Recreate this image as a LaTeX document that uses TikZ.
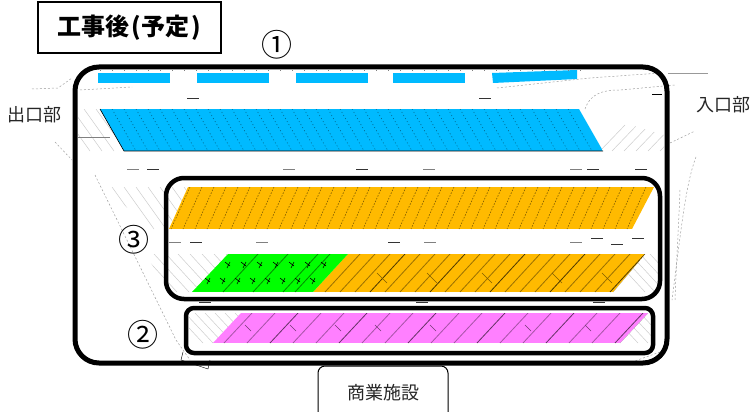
\documentclass[tikz,border=0pt]{standalone}
\usepackage{fontspec}
\setmainfont{Noto Sans CJK JP}
\usetikzlibrary{positioning}
\definecolor{bayblue}{RGB}{0,186,255}
\definecolor{bayorange}{RGB}{255,186,0}
\definecolor{baygreen}{RGB}{0,255,0}
\definecolor{baypink}{RGB}{255,128,255}
\tikzset{
  zonebox/.style={black, rounded corners=#1},
  thinhatch/.style={gray!40, line width=0.5pt},
  planline/.style={gray!75, line width=0.5pt, dash pattern=on 2pt off 2pt},
  tinymark/.style={black!80, line width=0.9pt},
  planlabel/.style={font=\fontsize{18}{18}\selectfont, text=black!85, inner sep=0pt},
  numlabel/.style={font=\fontsize{31}{31}\selectfont, inner sep=0pt},
}
% short strokes standing for the very small marks on the plan
\newcommand{\planmark}[2]{\draw[tinymark] (#1-6,#2) -- (#1+6,#2);}
\begin{document}
\begin{tikzpicture}[x=1pt,y=-1pt]
  \clip (0,0) rectangle (750,412);
  \useasboundingbox (0,0) rectangle (750,412);

  % grey site lines
  \draw[planline] (32,89) -- (58,88) -- (72,78);
  \draw[planline] (80,90) -- (132,87);
  \draw[planline] (497,88) -- (590,78) -- (660,73);
  \draw[planline] (585,109) .. controls (590,95) and (600,90) .. (620,90) -- (675,85);
  \draw[gray!80] (668,73) -- (708,73);
  \draw[black] (652,94) -- (662,94);
  \draw[planline] (670,143) -- (695,131);
  \draw[planline] (55,142) -- (72,160);
  \draw[planline] (95,175) -- (176,340) -- (190,360);
  \draw[planline] (696,157) .. controls (685,185) and (680,240) .. (672,300);
  \draw[planline] (680,190) .. controls (678,240) and (676,270) .. (675,300);
  \draw[planline] (660,352) -- (632,362);
  \draw[black, line width=0.4pt] (183,352) -- (181,360) -- (208,369) -- (210,360);

  % hatching beside the bays
  \begin{scope}
    \clip (78,109) -- (100,109) -- (124,151) -- (78,151) -- cycle;
    \foreach \k in {60,72,...,130}
      \draw[thinhatch] (\k,109) -- (\k+30,151);
    \draw[gray] (78,137) -- (110,137);
  \end{scope}
  \begin{scope}
    \clip (579,109) -- (664,135) -- (664,151) -- (603,151) -- cycle;
    \foreach \k in {600,612,...,680}
      \draw[thinhatch] (\k,151) -- (\k+25,125);
  \end{scope}
  \begin{scope}
    \clip (105,187) -- (188,187) -- (169,229) -- (150,229) -- cycle;
    \foreach \k in {100,112,...,190}
      \draw[thinhatch] (\k,187) -- (\k+30,229);
  \end{scope}
  \begin{scope}
    \clip (145,254) -- (228,254) -- (192,292) -- (170,292) -- cycle;
    \foreach \k in {130,142,...,230}
      \draw[thinhatch] (\k,254) -- (\k+35,292);
  \end{scope}
  \begin{scope}
    \clip (645,254) -- (660,254) -- (660,292) -- (613,292) -- cycle;
    \foreach \k in {610,620,...,690}
      \draw[thinhatch] (\k,254) -- (\k+35,292);
    \draw[gray] (613,292) -- (645,254);
  \end{scope}
  \begin{scope}
    \clip (189,313) -- (241,313) -- (213,343) -- (189,343) -- cycle;
    \foreach \k in {175,185,...,240}
      \draw[thinhatch] (\k,313) -- (\k+28,343);
  \end{scope}
  \begin{scope}
    \clip (648,313) -- (651,313) -- (651,343) -- (620,343) -- cycle;
    \foreach \k in {610,620,...,660}
      \draw[thinhatch] (\k,313) -- (\k+28,343);
    \draw[gray] (620,343) -- (648,313);
  \end{scope}

  % top row of bays
  \foreach \x in {98,197,296,393}
    \fill[bayblue] (\x,73) rectangle (\x+72,83);
  \fill[bayblue] (492,73) -- (577,70) -- (577,79) -- (493,83) -- cycle;
  \foreach \x in {100,112,...,580}
    \draw[gray, line width=0.6pt] (\x,70.5) -- (\x,71.5);

  % blue bays
  \begin{scope}
    \clip (100,109) -- (579,109) -- (603,151) -- (124,151) -- cycle;
    \fill[bayblue] (100,109) rectangle (603,151);
    \foreach \x in {100,112,...,590}
      \draw[black!55!bayblue, line width=0.5pt, dash pattern=on 1pt off 2.5pt] (\x,109) -- (\x+24,151);
  \end{scope}
  \draw[black, line width=0.6pt] (100,109) -- (124,151) -- (603,151);

  % orange bays, upper row
  \begin{scope}
    \clip (188,187) -- (654,187) -- (632,229) -- (169,229) -- cycle;
    \fill[bayorange] (169,187) rectangle (654,229);
    \foreach \x in {190,202,...,660}
      \draw[black!50!bayorange, line width=0.6pt, dash pattern=on 1.5pt off 1.5pt] (\x,187) -- (\x-19,229);
  \end{scope}

  % lower row
  \begin{scope}
    \clip (348,254) -- (645,254) -- (613,292) -- (313,292) -- cycle;
    \fill[bayorange] (313,254) rectangle (645,292);
    \foreach \x [count=\i] in {360,375,...,650} {
      \pgfmathsetmacro{\shade}{mod(\i,4)==0 ? 70 : 40}
      \draw[black!\shade!bayorange, line width=0.8pt] (\x,254) -- (\x-35,292);
    }
    \foreach \x in {395,445,500,570,620}
      \draw[black!50!bayorange, line width=0.6pt] (\x-18,273) -- (\x-8,283);
  \end{scope}
  \begin{scope}
    \clip (228,254) -- (348,254) -- (313,292) -- (192,292) -- cycle;
    \fill[baygreen] (192,254) rectangle (348,292);
    \foreach \x in {258,288,318,330}
      \draw[black!45!baygreen, line width=0.8pt] (\x,254) -- (\x-35,292);
    \foreach \x in {225,241,...,335}
      \draw[black, line width=0.6pt] (\x,262) -- (\x+5,266) (\x+5,262) -- (\x+2,268);
    \foreach \x in {205,220,...,315}
      \draw[black, line width=0.6pt] (\x,278) -- (\x+5,282) (\x+5,278) -- (\x+2,284);
  \end{scope}

  % pink bays
  \begin{scope}
    \clip (241,313) -- (648,313) -- (620,343) -- (213,343) -- cycle;
    \fill[baypink] (213,313) rectangle (648,343);
    \foreach \x [count=\i] in {252,275,...,650} {
      \pgfmathsetmacro{\shade}{mod(\i,3)==0 ? 60 : 35}
      \draw[black!\shade!baypink, line width=0.8pt] (\x,313) -- (\x-28,343);
    }
    \foreach \x in {245,290,335,375,430,525,585}
      \draw[black!55!baypink, line width=0.6pt] (\x,325) -- (\x+6,331);
  \end{scope}

  % very small marks on the aisles
  \foreach \x/\y in {193/98,485/98,153/169,362/169,196/242,394/242,
                     205/302,422/302,593/169,641/169,597/238,638/238,
                     617/244,599/302}
    \planmark{\x}{\y}
  \foreach \x/\y in {133/169,289/169,429/169,576/169,175/242,262/242,
                     430/242,576/242}
    \draw[gray, line width=0.6pt] (\x-6,\y) -- (\x+6,\y);

  % zone frames
  \draw[zonebox=24, line width=5pt] (75,67) rectangle (667,363);
  \draw[zonebox=18, line width=4.5pt] (166,178) rectangle (660,299);
  \draw[zonebox=8, line width=4.5pt] (186,308) rectangle (653,353);

  % labels
  \node[draw, black, line width=1.5pt, minimum width=183pt, minimum height=51pt,
        inner sep=0pt, fill=white] (title) at (129.5,27.5)
        {\fontsize{24}{24}\selectfont\bfseries 工事後\hspace{2.5pt}(予定\hspace{2.5pt})};
  \node[numlabel] (zoneone) at (277,45) {①};
  \node[numlabel] (zonetwo) at (143,335) {②};
  \node[numlabel] (zonethree) at (134,240) {③};
  \node[planlabel] (exit) at (35,115) {出口部};
  \node[planlabel] (entry) at (723,105) {入口部};
  \node[draw, black, line width=1pt, rounded corners=7pt, fill=white,
        minimum width=130pt, minimum height=70pt, inner sep=0pt] (shop) at (383,401) {};
  \node[planlabel] (shoplabel) at (383,393) {商業施設};
\end{tikzpicture}
\end{document}
